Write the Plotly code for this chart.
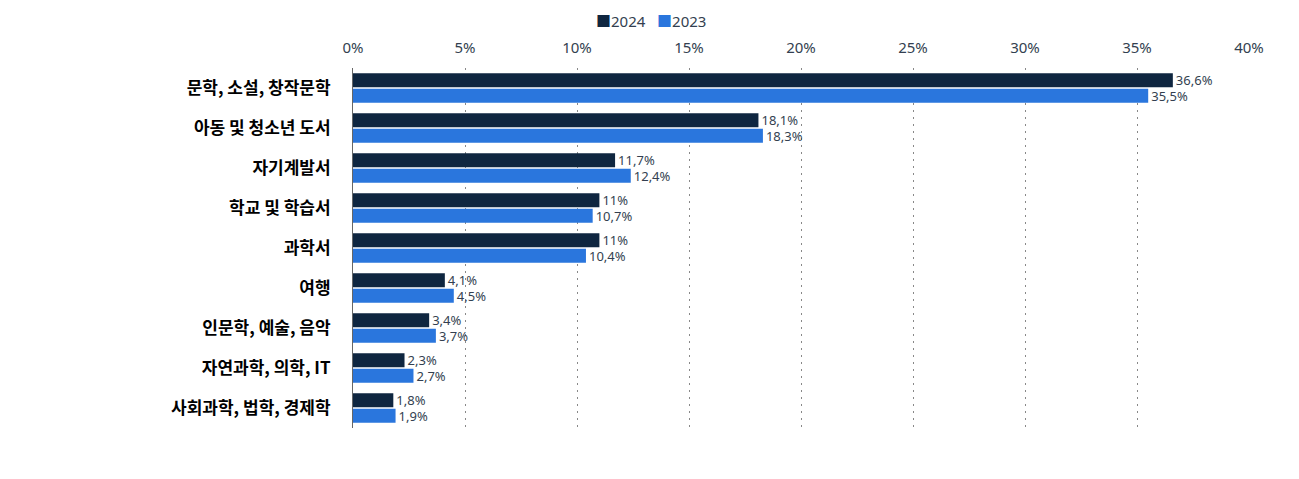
import plotly.graph_objects as go

categories = ["문학, 소설, 창작문학", "아동 및 청소년 도서", "자기계발서", "학교 및 학습서", "과학서",
              "여행", "인문학, 예술, 음악", "자연과학, 의학, IT", "사회과학, 법학, 경제학"]
v2024 = [36.6, 18.1, 11.7, 11, 11, 4.1, 3.4, 2.3, 1.8]
v2023 = [35.5, 18.3, 12.4, 10.7, 10.4, 4.5, 3.7, 2.7, 1.9]
series_names = ["2024", "2023"]
series_colors = ["#0f2640", "#2a76dd"]
tick_vals = [0, 5, 10, 15, 20, 25, 30, 35, 40]
tick_text = [f"{t}%" for t in tick_vals]

def fmt(v):
    return f"{v:g}".replace(".", ",") + "%"

FONT = "Noto Sans, Noto Sans CJK KR"

fig = go.Figure()
for name, vals, col in zip(series_names, [v2024, v2023], series_colors):
    fig.add_trace(go.Bar(name=name, y=categories, x=vals, orientation="h",
                         marker=dict(color=col, line=dict(width=0)),
                         text=[fmt(v) for v in vals],
                         textposition="outside", cliponaxis=False, constraintext="none",
                         textfont=dict(size=13, color="#333f50", family=FONT),
                         showlegend=False))

legend_html = "&nbsp;&nbsp;&nbsp;".join(
    f"<span style='color:{c}'>■</span>{n}" for n, c in zip(series_names, series_colors)
)

fig.update_layout(
    width=1299, height=479,
    margin=dict(l=345, r=58, t=60, b=59),
    barmode="group", bargap=0.22, bargroupgap=0.1,
    plot_bgcolor="white", paper_bgcolor="white",
    font=dict(family=FONT, color="#333f50"),
    annotations=[dict(text=legend_html, xref="paper", yref="paper", x=0.3326, y=1.0,
                      yshift=59, xanchor="center", yanchor="top", showarrow=False,
                      font=dict(size=15, color="#333f50", family=FONT))],
)
fig.update_xaxes(side="top", range=[0, 40], tickvals=tick_vals, ticktext=tick_text,
                 showgrid=True, gridcolor="#888888", griddash="2px,5px", gridwidth=1,
                 tickfont=dict(size=15, color="#333f50"), zeroline=False,
                 ticks="", fixedrange=True, ticklabelstandoff=11)
fig.update_yaxes(autorange="reversed", showline=True, linecolor="#666666", linewidth=1,
                 tickfont=dict(size=17, color="#000000", family="Noto Sans CJK KR", weight="bold"),
                 ticks="", ticklabelstandoff=18)

fig.write_html("out.html")
